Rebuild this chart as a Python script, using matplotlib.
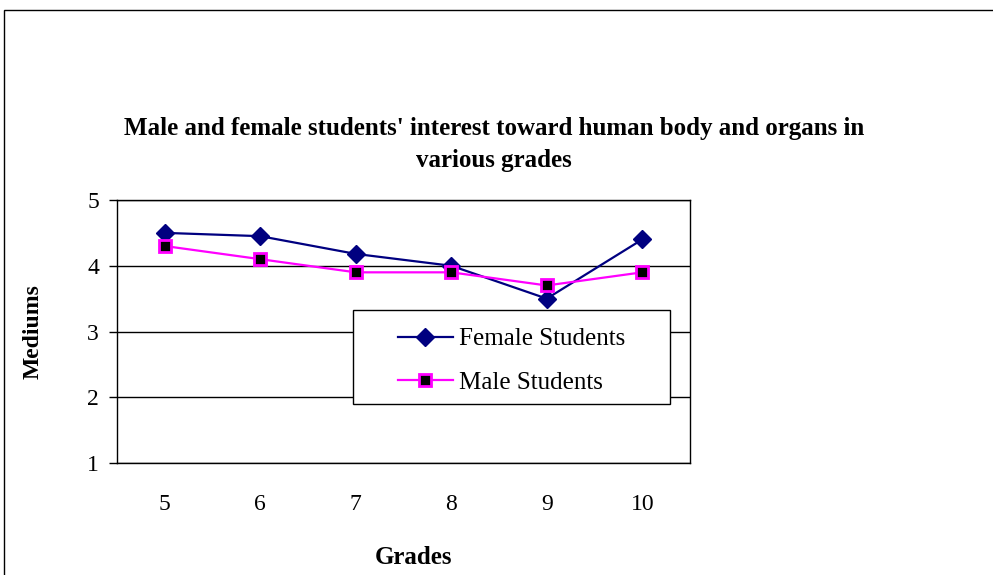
import matplotlib.pyplot as plt
from matplotlib.patches import Rectangle

grades = ['5', '6', '7', '8', '9', '10']
female = [4.5, 4.45, 4.18, 4.0, 3.5, 4.4]
male = [4.3, 4.1, 3.9, 3.9, 3.7, 3.9]
yticks = [1, 2, 3, 4, 5]

plt.rcParams['font.family'] = ['Liberation Serif', 'DejaVu Serif']

fig = plt.figure(figsize=(9.93, 5.75), dpi=100)
# outer chart border (only top and left are visible)
fig.patches.append(Rectangle((4 / 993, -0.1), 1.2, 1.1 - 10 / 575,
                             transform=fig.transFigure, fill=False,
                             edgecolor='black', linewidth=1.0))

ax = fig.add_axes([117 / 993, 1 - 463 / 575, 573 / 993, 263 / 575])
x = list(range(len(grades)))
ax.plot(x, female, color='#000080', linewidth=1.6, marker='D', markersize=9,
        markerfacecolor='#000080', markeredgecolor='#000080', label='Female Students')
ax.plot(x, male, color='#ff00ff', linewidth=1.6, marker='s', markersize=8.5,
        markerfacecolor='black', markeredgecolor='#ff00ff', markeredgewidth=2,
        label='Male Students')

ax.set_xlim(-0.5, len(grades) - 0.5)
ax.set_ylim(1, 5)
ax.set_yticks(yticks)
ax.set_xticks(x)
ax.set_xticklabels(grades)
ax.tick_params(axis='x', length=0, pad=22, labelsize=17)
ax.tick_params(axis='y', length=6, width=1, direction='out', pad=7, labelsize=17)
ax.yaxis.grid(True, color='black', linewidth=1)
ax.set_axisbelow(True)
for s in ax.spines.values():
    s.set_color('black')
    s.set_linewidth(1)

fig.text(414 / 993, 1 - 558 / 575, 'Grades', ha='center', va='center',
         fontsize=18, fontweight='bold')
fig.text(33 / 993, 1 - 332 / 575, 'Mediums', ha='center', va='center',
         fontsize=17, fontweight='bold', rotation=90)

fig.text(494 / 993, 1 - 144 / 575,
         "Male and female students' interest toward human body and organs in\nvarious grades",
         ha='center', va='center', fontsize=18, fontweight='bold', linespacing=1.5)

# legend box
bx0, bx1, by0, by1 = 353, 670, 310, 404
box = ((bx0 - 117) / 573, (463 - by1) / 263, (bx1 - bx0) / 573, (by1 - by0) / 263)
ax.add_patch(Rectangle(box[:2], box[2], box[3], transform=ax.transAxes,
                       facecolor='white', edgecolor='black', linewidth=1, zorder=4))
# legend entries sit a little below the box centre
entries = (box[0], box[1] - 4 / 263, box[2], box[3])
leg = ax.legend(loc='center', bbox_to_anchor=entries, fontsize=18, frameon=False,
                handlelength=2.2, handletextpad=0.25, labelspacing=0.85,
                borderaxespad=0, borderpad=0)
leg.set_zorder(5)

fig.savefig('out.png', dpi=100)
